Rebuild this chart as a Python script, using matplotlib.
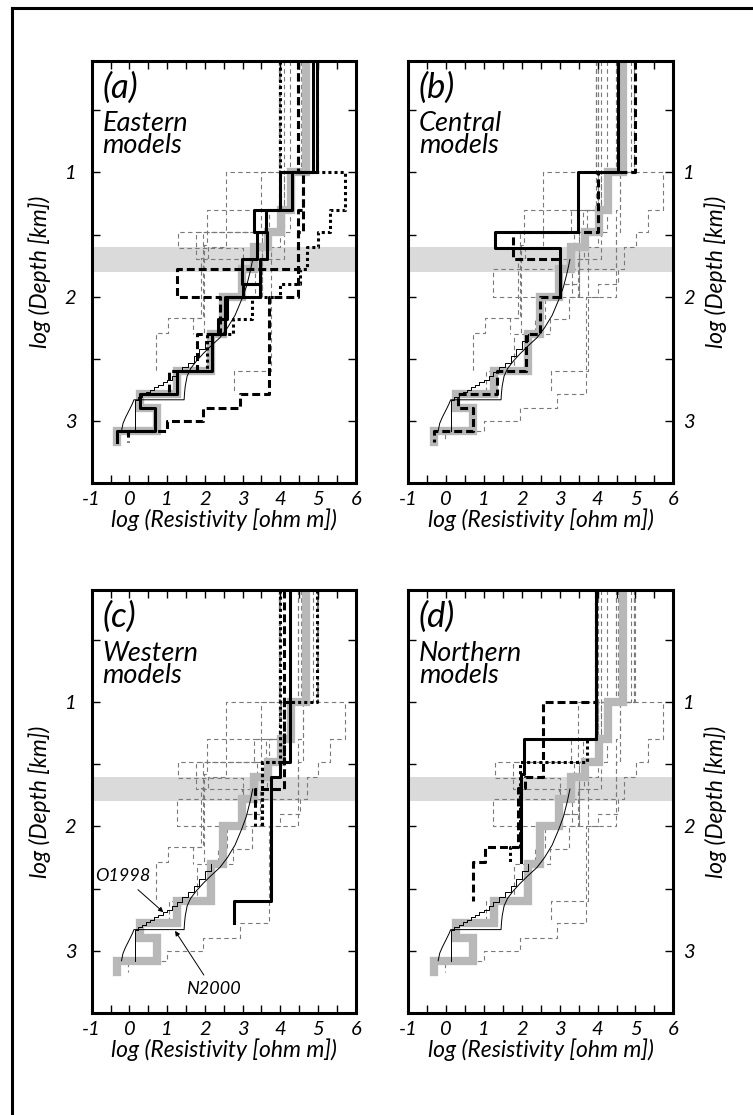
import matplotlib
matplotlib.use('Agg')
import matplotlib.pyplot as plt
from matplotlib.lines import Line2D

plt.rcParams['font.family'] = ['Lato', 'DejaVu Sans']
plt.rcParams['font.style'] = 'italic'
plt.rcParams['font.weight'] = 'normal'
plt.rcParams['axes.labelweight'] = 'normal'
plt.rcParams['axes.unicode_minus'] = False

# panel text
PANEL_TAGS = ['(a)', '(b)', '(c)', '(d)']
PANEL_NAMES = ['Eastern\nmodels', 'Central\nmodels', 'Western\nmodels', 'Northern\nmodels']
X_TICKS = [-1, 0, 1, 2, 3, 4, 5, 6]
Y_TICKS = [1, 2, 3]

# low-velocity band (log depth)
BAND = [1.6, 1.8]

# reference model (thick grey), log depth boundaries / log resistivity per layer
REF_DEPTH = [0.1, 1.0, 1.3, 1.48, 1.6, 1.78, 2.0, 2.3, 2.6, 2.78, 2.9, 3.08, 3.17]
REF_RHO = [4.68, 4.28, 4.03, 3.68, 3.3, 2.98, 2.48, 2.17, 1.27, 0.27, 0.72, -0.33]

# N2000 smooth curve
N2000_RHO = [3.27, 3.2, 3.1, 2.98, 2.8, 2.6, 2.4, 2.15, 1.95, 1.77, 1.62, 1.53, 1.48, 1.46, 1.45,
             0.12, 0.08, 0.0, -0.1, -0.17, -0.21]
N2000_DEPTH = [1.70, 1.8, 1.92, 2.02, 2.15, 2.25, 2.33, 2.40, 2.46, 2.52, 2.58, 2.64, 2.72, 2.78, 2.83,
               2.83, 2.86, 2.91, 2.97, 3.02, 3.08]

# O1998 finely layered model
O1998_DEPTH = [2.30, 2.36, 2.42, 2.48, 2.53, 2.57, 2.61, 2.64, 2.67, 2.69, 2.71, 2.73, 2.75,
               2.77, 2.79, 2.81, 2.83, 3.08]
O1998_RHO = [2.15, 2.0, 1.85, 1.7, 1.55, 1.4, 1.25, 1.12, 1.0, 0.88, 0.77, 0.66, 0.55, 0.44,
             0.33, 0.22, 0.14]

# Eastern models
EAST_SOLID1_DEPTH = [0.1, 1.0, 1.3, 1.48, 1.7, 1.9, 2.0, 2.3, 2.6, 2.78, 2.9, 3.08, 3.17]
EAST_SOLID1_RHO = [4.97, 4.0, 3.62, 3.38, 2.98, 3.47, 2.54, 2.18, 1.25, 0.28, 0.68, -0.34]
EAST_SOLID2_DEPTH = [0.1, 1.0, 1.3, 1.48, 1.7, 1.9, 2.0, 2.18, 2.3]
EAST_SOLID2_RHO = [4.88, 4.3, 3.29, 3.64, 3.47, 3.0, 2.6, 2.35]
EAST_DASH1_DEPTH = [0.1, 1.0, 1.3, 1.78, 2.0, 2.3, 2.6, 2.78]
EAST_DASH1_RHO = [4.48, 4.6, 4.48, 1.25, 2.4, 1.78, 1.05]
EAST_DASH2_DEPTH = [0.1, 1.0, 1.48, 2.0, 2.78, 2.9, 3.0, 3.08, 3.17]
EAST_DASH2_RHO = [4.48, 4.6, 4.48, 3.69, 2.93, 1.96, 0.99, -0.03]
EAST_DOT_DEPTH = [0.1, 1.0, 1.3, 1.48, 1.6, 1.78, 1.9, 2.0, 2.18, 2.3, 2.6]
EAST_DOT_RHO = [4.0, 5.72, 5.32, 5.01, 4.7, 4.53, 4.0, 3.25, 2.75, 2.05]

# Central models
CENT_SOLID_DEPTH = [0.1, 1.0, 1.48, 1.61, 2.0]
CENT_SOLID_RHO = [4.55, 3.49, 1.29, 3.0]
CENT_DASH_DEPTH = [0.1, 1.0, 1.48, 1.7, 2.0, 2.3, 2.6, 2.78, 2.9, 3.08, 3.17]
CENT_DASH_RHO = [4.99, 4.02, 1.77, 3.0, 2.48, 2.12, 1.33, 0.3, 0.7, -0.33]

# Western models
WEST_SOLID_DEPTH = [0.1, 1.48, 1.6, 2.6, 2.78]
WEST_SOLID_RHO = [4.26, 4.0, 3.75, 2.76]
WEST_DASH_DEPTH = [0.1, 1.7, 2.0]
WEST_DASH_RHO = [4.1, 3.33]
WEST_DOT1_DEPTH = [0.1, 1.0, 1.48, 2.0]
WEST_DOT1_RHO = [4.97, 4.1, 3.51]
WEST_DOT2_DEPTH = [0.1, 1.48, 2.0]
WEST_DOT2_RHO = [4.0, 3.51]

# Northern models
NORTH_SOLID_DEPTH = [0.1, 1.3, 1.58, 2.29]
NORTH_SOLID_RHO = [3.97, 2.06, 1.99]
NORTH_DASH_DEPTH = [0.1, 1.0, 1.6, 1.69, 2.17, 2.29, 2.6]
NORTH_DASH_RHO = [3.97, 2.57, 2.08, 1.9, 1.02, 0.7]
NORTH_DOT_DEPTH = [0.1, 1.3, 1.48, 2.17, 2.3]
NORTH_DOT_RHO = [3.97, 3.71, 1.95, 1.68]

REGIONS = [
    [(EAST_SOLID1_DEPTH, EAST_SOLID1_RHO, '-'), (EAST_SOLID2_DEPTH, EAST_SOLID2_RHO, '-'),
     (EAST_DASH1_DEPTH, EAST_DASH1_RHO, '--'), (EAST_DASH2_DEPTH, EAST_DASH2_RHO, '--'),
     (EAST_DOT_DEPTH, EAST_DOT_RHO, ':')],
    [(CENT_SOLID_DEPTH, CENT_SOLID_RHO, '-'), (CENT_DASH_DEPTH, CENT_DASH_RHO, '--')],
    [(WEST_SOLID_DEPTH, WEST_SOLID_RHO, '-'), (WEST_DASH_DEPTH, WEST_DASH_RHO, '--'),
     (WEST_DOT1_DEPTH, WEST_DOT1_RHO, ':'), (WEST_DOT2_DEPTH, WEST_DOT2_RHO, ':')],
    [(NORTH_SOLID_DEPTH, NORTH_SOLID_RHO, '-'), (NORTH_DASH_DEPTH, NORTH_DASH_RHO, '--'),
     (NORTH_DOT_DEPTH, NORTH_DOT_RHO, ':')],
]

AX_RECTS = [[0.1218, 0.5668, 0.3506, 0.3788], [0.5422, 0.5668, 0.3520, 0.3788],
            [0.1218, 0.0915, 0.3506, 0.3794], [0.5422, 0.0915, 0.3520, 0.3794]]


def steps(depths, rhos):
    xs, ys = [], []
    for i, r in enumerate(rhos):
        xs += [r, r]
        ys += [depths[i], depths[i + 1]]
    return xs, ys


def bold_style(ls):
    if ls == '--':
        return dict(color='k', lw=2.2, dashes=(2.6, 1.3))
    if ls == ':':
        return dict(color='k', lw=2.2, dashes=(1.0, 1.0))
    return dict(color='k', lw=2.2, ls='-')


fig = plt.figure(figsize=(7.53, 11.15), dpi=100)

# frame lines on left / top of the page
fig.add_artist(Line2D([12 / 753, 12 / 753], [0, 1 - 8 / 1115], color='k', lw=2.2,
                      transform=fig.transFigure))
fig.add_artist(Line2D([12 / 753, 1], [1 - 8 / 1115, 1 - 8 / 1115], color='k', lw=2.2,
                      transform=fig.transFigure))

for k in range(4):
    ax = fig.add_axes(AX_RECTS[k])
    ax.axhspan(BAND[0], BAND[1], color='#dadada', lw=0, zorder=0)

    # models of the other regions in thin grey dashes
    for j in range(4):
        if j == k:
            continue
        for d, r, ls in REGIONS[j]:
            xs, ys = steps(d, r)
            ax.plot(xs, ys, color='#7a7a7a', lw=0.8, dashes=(4, 3), zorder=1)

    xs, ys = steps(REF_DEPTH, REF_RHO)
    ax.plot(xs, ys, color='#b8b8b8', lw=6, solid_joinstyle='miter', zorder=2)

    ax.plot(N2000_RHO, N2000_DEPTH, color='k', lw=0.7, zorder=3)
    xs, ys = steps(O1998_DEPTH, O1998_RHO)
    ax.plot(xs, ys, color='k', lw=0.7, zorder=3)

    for d, r, ls in REGIONS[k]:
        xs, ys = steps(d, r)
        ax.plot(xs, ys, zorder=4, **bold_style(ls))

    ax.set_xlim(-1, 6)
    ax.set_ylim(3.5, 0.1)
    ax.set_xticks(X_TICKS)
    ax.set_xticks([-0.5 + i for i in range(7)], minor=True)
    ax.set_yticks(Y_TICKS)
    ax.set_yticks([0.5, 1.5, 2.5], minor=True)
    ax.tick_params(which='both', direction='in', top=True, right=True, bottom=True, left=True,
                   length=5.5, width=1, labelsize=14.5)
    ax.tick_params(axis='x', pad=6)
    for s in ax.spines.values():
        s.set_linewidth(2.2)

    ax.set_xlabel('log (Resistivity [ohm m])', fontsize=16.5, labelpad=0)
    if k % 2 == 0:
        ax.tick_params(axis='y', pad=11)
        ax.set_ylabel('log (Depth [km])', fontsize=16.5, labelpad=10)
    else:
        ax.tick_params(axis='y', labelleft=False, labelright=True, pad=7)
        ax.yaxis.set_label_position('right')
        ax.set_ylabel('log (Depth [km])', fontsize=16.5, labelpad=7, rotation=90)

    ax.text(0.04, 0.975, PANEL_TAGS[k], transform=ax.transAxes, ha='left', va='top', fontsize=25)
    ax.text(0.04, 0.88, PANEL_NAMES[k], transform=ax.transAxes, ha='left', va='top',
            fontsize=19.5, linespacing=0.85)

    if k == 2:
        ax.annotate('O1998', xy=(0.9, 2.69), xytext=(-0.18, 2.40), ha='center', va='center',
                    fontsize=13, arrowprops=dict(arrowstyle='-|>', lw=0.7, color='k',
                                                 mutation_scale=7, shrinkA=3, shrinkB=0))
        ax.annotate('N2000', xy=(1.21, 2.84), xytext=(2.22, 3.31), ha='center', va='center',
                    fontsize=13, arrowprops=dict(arrowstyle='-|>', lw=0.7, color='k',
                                                 mutation_scale=7, shrinkA=3, shrinkB=0))

fig.savefig('out.png', dpi=100)
